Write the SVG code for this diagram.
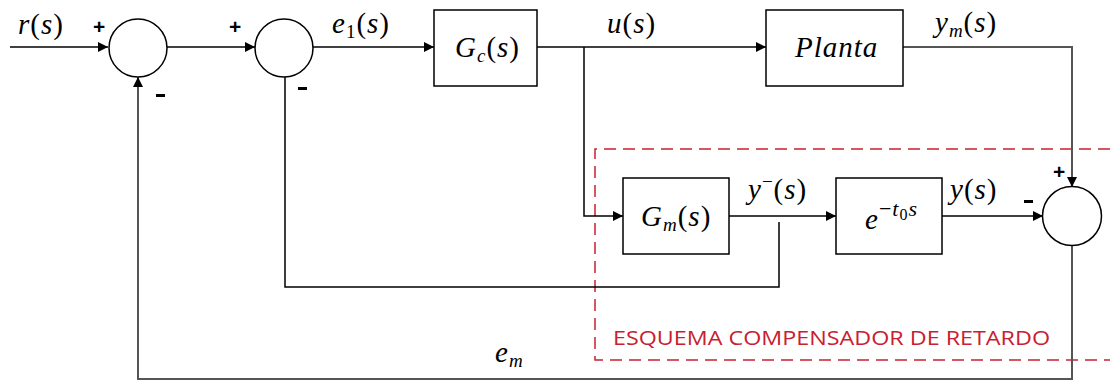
<svg xmlns="http://www.w3.org/2000/svg" width="1110" height="382" viewBox="0 0 1110 382">
<defs>
<marker id="ah" viewBox="0 0 10 10" refX="10" refY="5" markerWidth="10" markerHeight="10" markerUnits="userSpaceOnUse" orient="auto">
<path d="M0,0 L10,5 L0,10 z" fill="#000"/>
</marker>
<style>
.ln{fill:none;stroke:#000;stroke-width:1.5}
.gl{fill:none;stroke:#555;stroke-width:2}
.box{fill:#fff;stroke:#000;stroke-width:1.5}
.m{font-family:"Liberation Serif",serif;font-style:italic;font-size:29px;fill:#000;letter-spacing:1px}
.u{font-style:normal}
.sg{font-family:"Liberation Sans",sans-serif;font-weight:bold;font-size:21px;fill:#000}
.red{font-family:"Open Sans","Liberation Sans",sans-serif;font-size:20px;fill:#c8202f}
</style>
</defs>
<rect x="0" y="0" width="1110" height="382" fill="#fff"/>
<g id="compensator-region">
<path d="M1110,149 H595 V360 H1110" fill="none" stroke="#c8202f" stroke-width="1.5" stroke-dasharray="12,7"/>
<text class="red" x="613" y="345" textLength="437" lengthAdjust="spacingAndGlyphs">ESQUEMA COMPENSADOR DE RETARDO</text>
</g>
<g id="connectors">
<line class="ln" x1="10" y1="47" x2="108" y2="47" marker-end="url(#ah)"/>
<line class="ln" x1="167" y1="47" x2="255" y2="47" marker-end="url(#ah)"/>
<line class="ln" x1="313" y1="47" x2="434" y2="47" marker-end="url(#ah)"/>
<line class="ln" x1="537" y1="47" x2="766" y2="47" marker-end="url(#ah)"/>
<path class="ln" d="M584,47 V216 H623" marker-end="url(#ah)"/>
<line class="ln" x1="729" y1="216" x2="836" y2="216" marker-end="url(#ah)"/>
<path class="ln" d="M779,222 V287 H285 V77"/>
<line class="ln" x1="942" y1="216" x2="1043" y2="216" marker-end="url(#ah)"/>
<path class="gl" d="M903,47 H1072 V187" marker-end="url(#ah)"/>
<path class="gl" d="M1072,245 V379 H138 V77" marker-end="url(#ah)"/>
</g>
<g id="sum1">
<circle cx="138" cy="48" r="29" class="box"/>
<text class="sg" x="93" y="34">+</text>
<rect x="156" y="94" width="9" height="3" fill="#000"/>
</g>
<g id="sum2">
<circle cx="284" cy="48" r="29" class="box"/>
<text class="sg" x="229" y="34">+</text>
<rect x="298" y="87" width="9" height="3" fill="#000"/>
</g>
<g id="sum3">
<circle cx="1072" cy="216" r="29.5" class="box"/>
<text class="sg" x="1053" y="179">+</text>
<rect x="1024" y="200" width="9" height="3" fill="#000"/>
</g>
<g id="gc">
<rect x="434" y="10" width="103" height="76" class="box"/>
<text class="m" x="455" y="57">G<tspan font-size="19" dy="5">c</tspan><tspan class="u" dy="-5">(</tspan>s<tspan class="u">)</tspan></text>
</g>
<g id="planta">
<rect x="766" y="10" width="137" height="76" class="box"/>
<text class="m" x="795" y="57" letter-spacing="0">Planta</text>
</g>
<g id="gm">
<rect x="623" y="178" width="106" height="76" class="box"/>
<text class="m" x="641" y="226">G<tspan font-size="19" dy="5">m</tspan><tspan class="u" dy="-5">(</tspan>s<tspan class="u">)</tspan></text>
</g>
<g id="delay">
<rect x="836" y="178" width="106" height="76" class="box"/>
<text class="m" x="865" y="229">e<tspan font-size="22" dy="-13" class="u">−</tspan><tspan font-size="22">t</tspan><tspan font-size="16" dy="4" class="u">0</tspan><tspan font-size="22" dy="-4">s</tspan></text>
</g>
<g id="labels">
<text class="m" x="18" y="34">r<tspan class="u">(</tspan>s<tspan class="u">)</tspan></text>
<text class="m" x="332" y="33">e<tspan font-size="19" dy="5" class="u">1</tspan><tspan class="u" dy="-5">(</tspan>s<tspan class="u">)</tspan></text>
<text class="m" x="607" y="33">u<tspan class="u">(</tspan>s<tspan class="u">)</tspan></text>
<text class="m" x="935" y="32">y<tspan font-size="19" dy="5">m</tspan><tspan class="u" dy="-5">(</tspan>s<tspan class="u">)</tspan></text>
<text class="m" x="748" y="199">y<tspan font-size="19" dy="-11" class="u">−</tspan><tspan class="u" dy="11">(</tspan>s<tspan class="u">)</tspan></text>
<text class="m" x="950" y="199">y<tspan class="u">(</tspan>s<tspan class="u">)</tspan></text>
<text class="m" x="495" y="362">e<tspan font-size="19" dy="5">m</tspan></text>
</g>
</svg>
